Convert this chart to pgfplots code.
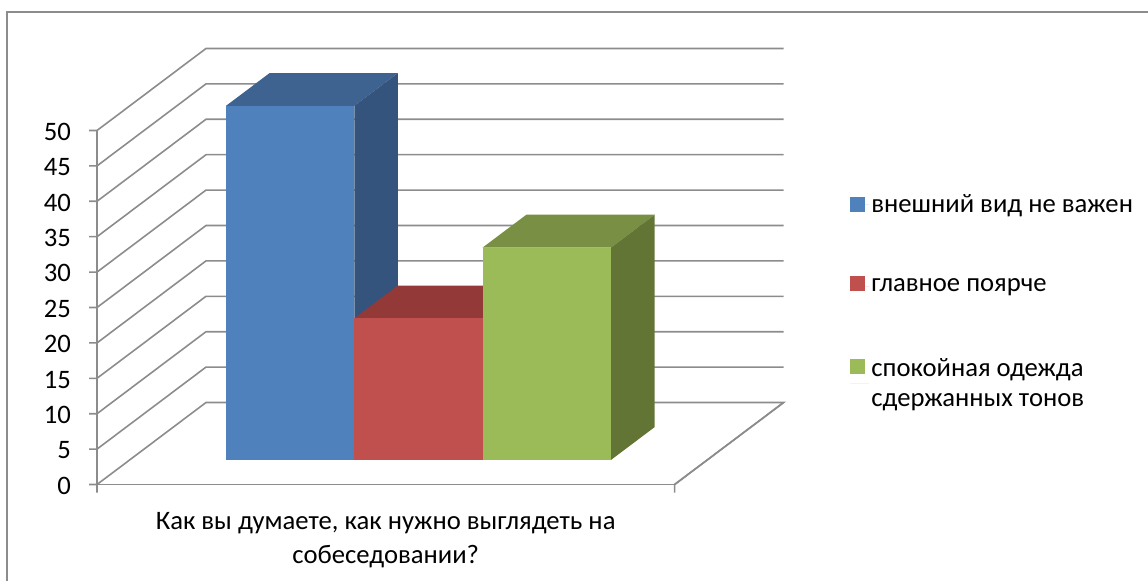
\documentclass[border=0pt]{standalone}
\usepackage{fontspec}
\setmainfont{Carlito}
\usepackage{pgfplots}
\pgfplotsset{compat=1.18}
\definecolor{gridgray}{HTML}{8C8C8C}
\definecolor{blueF}{HTML}{4F81BD}
\definecolor{blueT}{HTML}{3E6390}
\definecolor{blueS}{HTML}{34547E}
\definecolor{redF}{HTML}{C0504D}
\definecolor{redT}{HTML}{933A38}
\definecolor{greenF}{HTML}{9BBB59}
\definecolor{greenT}{HTML}{788F44}
\definecolor{greenS}{HTML}{637535}
\def\px{0.75pt}
\pgfplotsset{
    squarekey/.style={legend image code/.code={
        \path (0pt,0pt) rectangle (14.25pt,0pt);
        \path[##1, draw=none] (0pt,-5.6pt) rectangle (11.25pt,5.6pt);}},
    midsquarekey/.style={legend image code/.code={
        \path (0pt,0pt) rectangle (14.25pt,0pt);
        \path[##1, draw=none] (0pt,-3.8pt) rectangle (11.25pt,7.4pt);}},
    upsquarekey/.style={legend image code/.code={
        \path (0pt,0pt) rectangle (14.25pt,0pt);
        \path[##1, draw=none] (0pt,7.0pt) rectangle (11.25pt,18.2pt);}},
}
\begin{document}
\begin{tikzpicture}
\path[use as bounding box] (0,0) rectangle (1148*\px,-581*\px);
\draw[gridgray, line width=1.2pt] (7*\px,-581*\px) -- (7*\px,-12*\px) -- (1148*\px,-12*\px);
\begin{axis}[
    at={(97*\px,-484.5*\px)}, anchor=origin,
    x={(72.2pt,0pt)}, y={(81.75pt,61.5pt)}, z={(0pt,5.31pt)},
    xmin=0, xmax=6, ymin=0, ymax=1, zmin=0, zmax=50,
    axis lines=left,
    axis line style={gridgray, line width=1.2pt, -},
    clip=false,
    xtick={0,6}, xticklabels={}, ytick=\empty,
    ztick={0,5,...,50},
    major tick length=0pt,
    tick label style={font=\fontsize{20}{24}\selectfont, black},
    z tick label style={anchor=east, xshift=-16pt, yshift=-1pt},
    /pgf/number format/assume math mode=true,
    xlabel={Как вы думаете, как нужно выглядеть на\\собеседовании?},
    x label style={font=\fontsize{20}{25.2}\selectfont, align=center, xshift=15.75pt, yshift=-10pt},
    legend style={draw=none, fill=none, at={(1.09,0.72)}, anchor=north west, yshift=-13.5pt,
        font=\fontsize{20}{22.5}\selectfont,
        cells={anchor=west, align=left}, row sep=44.5pt},
    squarekey,
]
% wall and floor lines, ticks
\addplot3[forget plot, gridgray, line width=1.2pt] coordinates {
    (0,0,5) (0,1,5) (6,1,5)

    (0,0,10) (0,1,10) (6,1,10)

    (0,0,15) (0,1,15) (6,1,15)

    (0,0,20) (0,1,20) (6,1,20)

    (0,0,25) (0,1,25) (6,1,25)

    (0,0,30) (0,1,30) (6,1,30)

    (0,0,35) (0,1,35) (6,1,35)

    (0,0,40) (0,1,40) (6,1,40)

    (0,0,45) (0,1,45) (6,1,45)

    (0,0,50) (0,1,50) (6,1,50)

    (0,0,0) (0,1,0) (6,1,0) (6,0,0) (6,0,-1.13)

    (0,0,0) (0,0,-1.13)

    (-0.083,0,0) (0,0,0)

    (-0.083,0,5) (0,0,5)

    (-0.083,0,10) (0,0,10)

    (-0.083,0,15) (0,0,15)

    (-0.083,0,20) (0,0,20)

    (-0.083,0,25) (0,0,25)

    (-0.083,0,30) (0,0,30)

    (-0.083,0,35) (0,0,35)

    (-0.083,0,40) (0,0,40)

    (-0.083,0,45) (0,0,45)

    (-0.083,0,50) (0,0,50)
};
% blue
\addplot3[forget plot, fill=blueT, draw=none] coordinates {(1,0.3,50) (2.333,0.3,50) (2.333,0.7,50) (1,0.7,50)} --cycle;
\addplot3[forget plot, fill=blueS, draw=none] coordinates {(2.333,0.3,0) (2.333,0.7,0) (2.333,0.7,50) (2.333,0.3,50)} --cycle;
\addplot3[fill=blueF, draw=none] coordinates {(1,0.3,0) (2.333,0.3,0) (2.333,0.3,50) (1,0.3,50)} --cycle;
\addlegendentry{внешний вид не важен\rule[-5.5pt]{0pt}{1pt}}
% red
\addplot3[forget plot, fill=redT, draw=none] coordinates {(2.333,0.3,20) (3.667,0.3,20) (3.667,0.7,20) (2.333,0.7,20)} --cycle;
\addplot3[fill=redF, draw=none, midsquarekey] coordinates {(2.333,0.3,0) (3.667,0.3,0) (3.667,0.3,20) (2.333,0.3,20)} --cycle;
\addlegendentry{главное поярче}
% green
\addplot3[forget plot, fill=greenT, draw=none] coordinates {(3.667,0.3,30) (5,0.3,30) (5,0.7,30) (3.667,0.7,30)} --cycle;
\addplot3[forget plot, fill=greenS, draw=none] coordinates {(5,0.3,0) (5,0.7,0) (5,0.7,30) (5,0.3,30)} --cycle;
\addplot3[fill=greenF, draw=none, upsquarekey]
    coordinates {(3.667,0.3,0) (5,0.3,0) (5,0.3,30) (3.667,0.3,30)} --cycle;
\addlegendentry{спокойная одежда\\сдержанных тонов}
\end{axis}
\end{tikzpicture}
\end{document}
